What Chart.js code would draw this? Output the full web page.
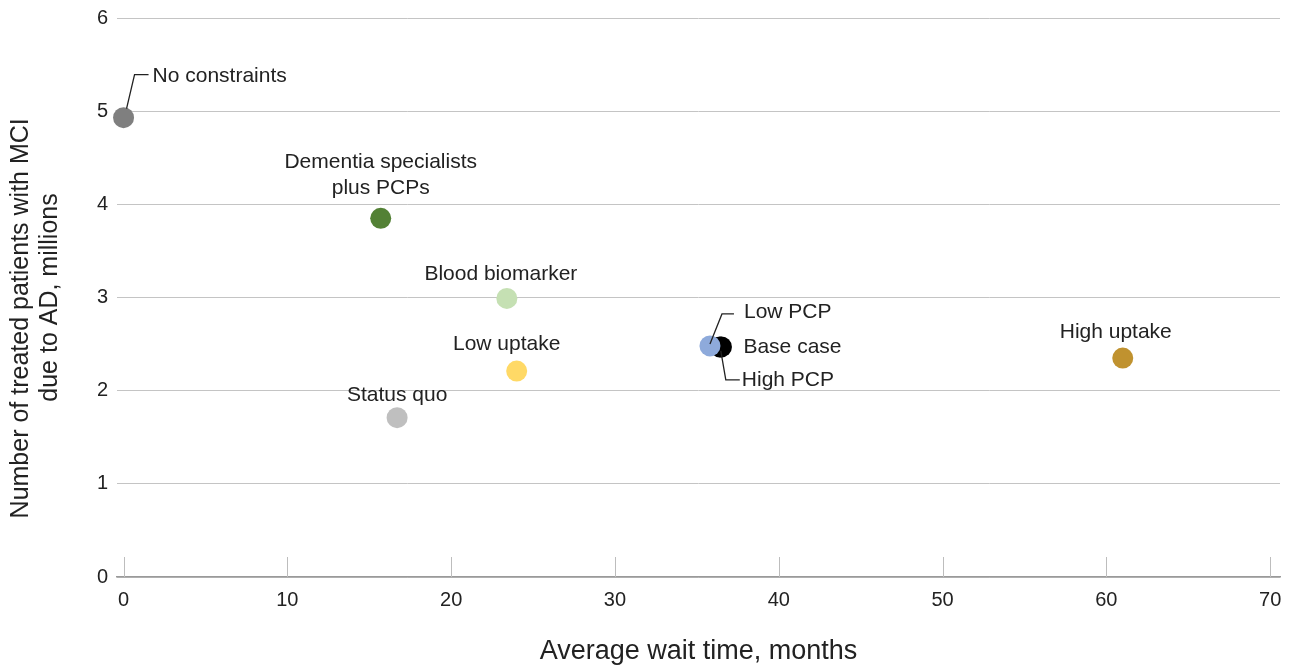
<!DOCTYPE html>
<html>
<head>
<meta charset="utf-8">
<script src="https://cdn.jsdelivr.net/npm/chart.js@4.4.1/dist/chart.umd.min.js"></script>
<style>
  html, body { margin: 0; padding: 0; background: #fff; }
  #wrap { width: 1294px; height: 668px; position: relative; }
</style>
</head>
<body>
<div id="wrap"><canvas id="waitChart"></canvas></div>
<script>
// ---- data ----
const scenarios = ["No constraints", "Dementia specialists plus PCPs", "Blood biomarker", "Low uptake",
                   "Status quo", "Base case", "High PCP", "Low PCP", "High uptake"];
const waitMonths = [0, 15.7, 23.4, 24.0, 16.7, 36.5, 36.4, 35.8, 61.0];
const treatedMillions = [4.93, 3.85, 2.99, 2.21, 1.71, 2.47, 2.47, 2.48, 2.35];
const xTicks = [0, 10, 20, 30, 40, 50, 60, 70];
const yTicks = [0, 1, 2, 3, 4, 5, 6];

// ---- styling ----
const FONT = "'Liberation Sans', Arial, Helvetica, sans-serif";
const TEXT = "#222222";
const pointColors = ["#7f7f7f", "#538135", "#c5e0b3", "#ffd966", "#bfbfbf",
                     "#000000", "#000000", "#8eaadb", "#c0922f"];

// label placement relative to each point (pixels), plus optional leader lines
const labelStyle = {
  "No constraints": { dx: 29, dy: -41, align: "left", leader: [[3, -9], [11, -43], [25, -43]] },
  "Dementia specialists plus PCPs": { dx: 0, dy: -56, align: "center", lines: ["Dementia specialists", "plus PCPs"] },
  "Blood biomarker": { dx: -6, dy: -24, align: "center" },
  "Low uptake": { dx: -10, dy: -27, align: "center" },
  "Status quo": { dx: 0, dy: -22, align: "center" },
  "Base case": { dx: 22, dy: 0, align: "left" },
  "High PCP": { dx: 22, dy: 33, align: "left", leader: [[1, 4], [6, 33], [20, 33]] },
  "Low PCP": { dx: 34, dy: -34, align: "left", leader: [[0, -2], [12, -32], [24, -32]] },
  "High uptake": { dx: -7, dy: -26, align: "center" }
};

// Small tick marks rising from the x axis
const xTickMarks = {
  id: "xTickMarks",
  beforeDatasetsDraw(chart) {
    const { ctx, chartArea, scales } = chart;
    ctx.save();
    ctx.strokeStyle = "#bdbdbd";
    ctx.lineWidth = 1;
    xTicks.forEach(v => {
      const px = Math.round(scales.x.getPixelForValue(v)) + 0.5;
      ctx.beginPath();
      ctx.moveTo(px, chartArea.bottom - 20);
      ctx.lineTo(px, chartArea.bottom);
      ctx.stroke();
    });
    ctx.restore();
  }
};

// Point labels and leader lines
const pointLabels = {
  id: "pointLabels",
  afterDatasetsDraw(chart) {
    const { ctx } = chart;
    const meta = chart.getDatasetMeta(0);
    ctx.save();
    ctx.font = "21px " + FONT;
    ctx.fillStyle = TEXT;
    ctx.textBaseline = "middle";
    scenarios.forEach((name, i) => {
      const st = labelStyle[name];
      const pt = meta.data[i];
      if (!st || !pt) return;
      if (st.leader) {
        ctx.strokeStyle = TEXT;
        ctx.lineWidth = 1.3;
        ctx.beginPath();
        st.leader.forEach(([lx, ly], k) => {
          if (k === 0) ctx.moveTo(pt.x + lx, pt.y + ly);
          else ctx.lineTo(pt.x + lx, pt.y + ly);
        });
        ctx.stroke();
      }
      ctx.textAlign = st.align;
      const lines = st.lines || [name];
      lines.forEach((ln, k) => {
        ctx.fillText(ln, pt.x + st.dx, pt.y + st.dy + k * 26);
      });
    });
    ctx.restore();
  }
};

new Chart(document.getElementById("waitChart"), {
  type: "scatter",
  data: {
    datasets: [{
      data: waitMonths.map((x, i) => ({ x, y: treatedMillions[i] })),
      backgroundColor: pointColors,
      borderWidth: 0,
      pointRadius: 10.5,
      pointHoverRadius: 10.5,
      clip: false
    }]
  },
  options: {
    responsive: true,
    maintainAspectRatio: false,
    animation: false,
    layout: { autoPadding: false, padding: { top: 0, right: 14, left: 0, bottom: 0 } },
    plugins: { legend: { display: false }, tooltip: { enabled: false } },
    scales: {
      x: {
        type: "linear",
        min: -0.4,
        max: 70.6,
        afterBuildTicks: s => { s.ticks = xTicks.map(v => ({ value: v })); },
        afterFit: s => { s.height = 91; },
        grid: { display: false },
        border: { display: true, color: "#9a9a9a", width: 1.5 },
        ticks: { color: TEXT, font: { family: FONT, size: 20 }, padding: 3, maxRotation: 0 },
        title: {
          display: true,
          text: "Average wait time, months",
          color: TEXT,
          font: { family: FONT, size: 27 },
          padding: { top: 10, bottom: 0 }
        }
      },
      y: {
        min: 0,
        max: 6,
        afterBuildTicks: s => { s.ticks = yTicks.map(v => ({ value: v })); },
        afterFit: s => { s.width = 117; },
        grid: { color: "#c4c4c4", lineWidth: 1, drawTicks: false },
        border: { display: false },
        ticks: { color: TEXT, font: { family: FONT, size: 20, lineHeight: 0.9 }, padding: 9 },
        title: {
          display: true,
          text: ["Number of treated patients with MCI      ", "due to AD, millions"],
          color: TEXT,
          font: { family: FONT, size: 25, lineHeight: 1.15 },
          padding: { top: 7, bottom: 0 }
        }
      }
    }
  },
  plugins: [xTickMarks, pointLabels]
});
</script>
</body>
</html>
